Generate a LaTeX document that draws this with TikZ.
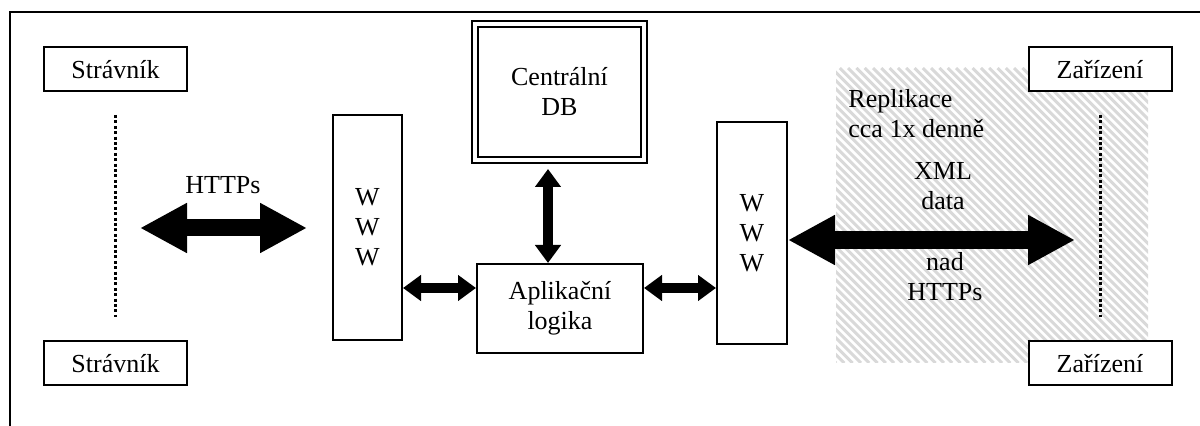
\documentclass[tikz,border=0pt]{standalone}
\usepackage{fontspec}
\setmainfont{Liberation Serif}
\usetikzlibrary{arrows.meta}

\begin{document}
\begin{tikzpicture}[x=0.5pt, y=-0.5pt,
		every node/.style={font=\fontsize{13pt}{15pt}\selectfont},
		box/.style={draw, line width=1pt, fill=white, inner sep=0pt, align=center},
		osoba/.style={box, minimum width=71.5pt, minimum height=22pt},
		popis/.style={inner sep=0pt, align=center},
		tecky/.style={line width=1.5pt, dash pattern=on 1.5pt off 1.2pt},
		sipka/.style={line width=8.5pt, {Triangle[width=23.5pt,length=23.5pt]}-{Triangle[width=23.5pt,length=23.5pt]}},
		sipkamala/.style={line width=5pt, {Triangle[width=12.5pt,length=9pt]}-{Triangle[width=12.5pt,length=9pt]}},
		srafa/.style={line width=1.5pt, gray!30}
	]
		\useasboundingbox (0,0) rectangle (1200,426);
		% Ramecek
		\draw[line width=1pt] (10,426) -- (10,12) -- (1200,12);
		% Srafovana oblast replikace
		\begin{scope}
			\clip (836,68) rectangle (1148,363);
			\foreach \x in {541,549.3,...,1148}
				\draw[srafa] (\x,68) -- ++(295,295);
		\end{scope}
		% Stravnici
		\node[osoba] (str1) at (115.5,69.5) {Strávník};
		\node[osoba] (str2) at (115.5,363.5) {Strávník};
		\draw[tecky] (str1.south |- 0,115) -- (str2.north |- 0,317);
		% Zarizeni
		\node[osoba] (zar1) at (1100,69.5) {Zařízení};
		\node[osoba] (zar2) at (1100,363.5) {Zařízení};
		\draw[tecky] (zar1.south |- 0,115) -- (zar2.north |- 0,317);
		% WWW servery
		\node[box, minimum width=34.5pt, minimum height=112.5pt] (wwwl) at (367.5,227.5) {W\\W\\W};
		\node[box, minimum width=35pt, minimum height=111pt] (wwwr) at (752,233) {W\\W\\W};
		% Databaze a aplikacni logika
		\node[box, double, double distance=2pt, minimum width=84.5pt, minimum height=68pt] (db) at (559.5,92) {Centrální\\DB};
		\node[box, minimum width=83pt, minimum height=44.5pt] (logika) at (560,308.5) {Aplikační\\logika};
		% Sipky
		\coordinate (httpsL) at (140,228);
		\coordinate (httpsR) at (307,228);
		\coordinate (xmlR) at (1075,240);
		\coordinate (dbS) at (548,169);
		\coordinate (malaY) at (0,288);
		\draw[sipka] (httpsL) -- (httpsR);
		\draw[sipka, line width=9pt] (wwwr.east |- xmlR) -- (xmlR);
		\draw[sipkamala] (wwwl.east |- malaY) -- (logika.west |- malaY);
		\draw[sipkamala] (logika.east |- malaY) -- (wwwr.west |- malaY);
		\draw[sipkamala] (dbS) -- (dbS |- logika.north);
		% Popisky
		\node[popis, anchor=north] (lhttps) at (223,176) {HTTPs};
		\node[popis, anchor=north west, align=left] (lrepl) at (848,89) {Replikace\\cca 1x denně};
		\node[popis, anchor=north] (lxml) at (943,162) {XML\\data};
		\node[popis, anchor=north] (lnad) at (945,252) {nad\\HTTPs};
	\end{tikzpicture}
\end{document}
